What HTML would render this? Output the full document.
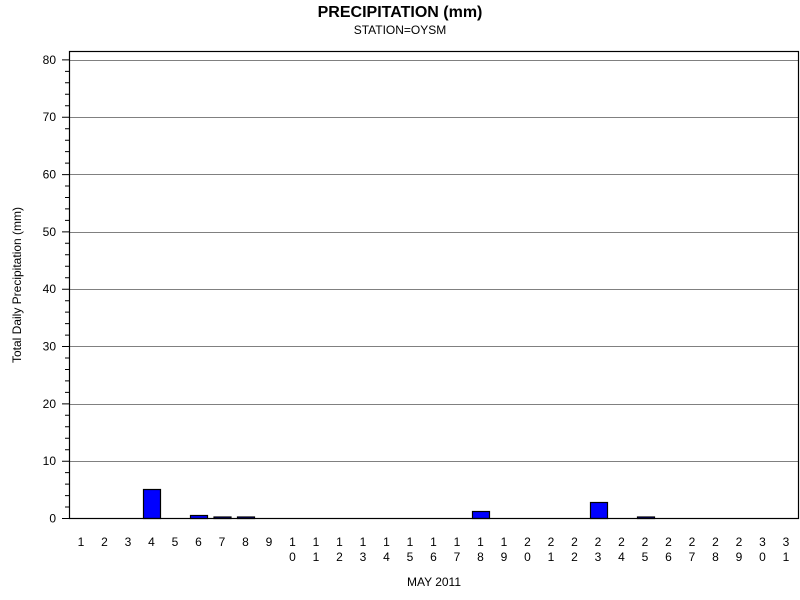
<!DOCTYPE html><html><head><style>body{margin:0;background:#fff}svg{display:block}text{font-family:"Liberation Sans",sans-serif}</style></head><body>
<svg width="800" height="600" xmlns="http://www.w3.org/2000/svg">
<text x="400" y="17" font-size="16" font-weight="bold" text-anchor="middle">PRECIPITATION (mm)</text>
<text x="400" y="34" font-size="12" text-anchor="middle">STATION=OYSM</text>
<g stroke="#808080" stroke-width="1">
<line x1="69" x2="799" y1="60.5" y2="60.5"/><line x1="69" x2="799" y1="117.5" y2="117.5"/><line x1="69" x2="799" y1="174.5" y2="174.5"/><line x1="69" x2="799" y1="232.5" y2="232.5"/><line x1="69" x2="799" y1="289.5" y2="289.5"/><line x1="69" x2="799" y1="346.5" y2="346.5"/><line x1="69" x2="799" y1="404.5" y2="404.5"/><line x1="69" x2="799" y1="461.5" y2="461.5"/>
</g>
<g fill="#0000ff" stroke="#000" stroke-width="1.2">
<rect x="143.5" y="489.5" width="17" height="29"/>
<rect x="190.5" y="515.5" width="17" height="3"/>
<rect x="214" y="517" width="17" height="1.5"/>
<rect x="237.5" y="517" width="17" height="1.5"/>
<rect x="472.5" y="511.5" width="17" height="7"/>
<rect x="590.5" y="502.5" width="17" height="16"/>
<rect x="637.5" y="517" width="17" height="1.5"/>
</g>
<rect x="69.5" y="51.5" width="729" height="467" fill="none" stroke="#000" stroke-width="1.2"/>
<path stroke="#000" stroke-width="1" fill="none" d="M62 518.5H69M65 507H69M65 495.6H69M65 484.1H69M65 472.6H69M62 461.2H69M65 449.7H69M65 438.2H69M65 426.8H69M65 415.3H69M62 403.9H69M65 392.4H69M65 380.9H69M65 369.5H69M65 358H69M62 346.5H69M65 335.1H69M65 323.6H69M65 312.1H69M65 300.7H69M62 289.2H69M65 277.7H69M65 266.3H69M65 254.8H69M65 243.3H69M62 231.9H69M65 220.4H69M65 208.9H69M65 197.5H69M65 186H69M62 174.6H69M65 163.1H69M65 151.6H69M65 140.2H69M65 128.7H69M62 117.2H69M65 105.8H69M65 94.3H69M65 82.8H69M65 71.4H69M62 59.9H69"/>
<g font-size="12" text-anchor="end">
<text x="56" y="522.5">0</text><text x="56" y="465.2">10</text><text x="56" y="407.9">20</text><text x="56" y="350.5">30</text><text x="56" y="293.2">40</text><text x="56" y="235.9">50</text><text x="56" y="178.6">60</text><text x="56" y="121.2">70</text><text x="56" y="63.9">80</text>
</g>
<g font-size="12" text-anchor="middle">
<text x="81" y="546">1</text><text x="104.5" y="546">2</text><text x="128" y="546">3</text><text x="151.5" y="546">4</text><text x="175" y="546">5</text><text x="198.5" y="546">6</text><text x="222" y="546">7</text><text x="245.5" y="546">8</text><text x="269" y="546">9</text>
<text x="292.5" y="546">1</text><text x="292.5" y="561">0</text>
<text x="316" y="546">1</text><text x="316" y="561">1</text>
<text x="339.5" y="546">1</text><text x="339.5" y="561">2</text>
<text x="363" y="546">1</text><text x="363" y="561">3</text>
<text x="386.5" y="546">1</text><text x="386.5" y="561">4</text>
<text x="410" y="546">1</text><text x="410" y="561">5</text>
<text x="433.5" y="546">1</text><text x="433.5" y="561">6</text>
<text x="457" y="546">1</text><text x="457" y="561">7</text>
<text x="480.5" y="546">1</text><text x="480.5" y="561">8</text>
<text x="504" y="546">1</text><text x="504" y="561">9</text>
<text x="527.5" y="546">2</text><text x="527.5" y="561">0</text>
<text x="551" y="546">2</text><text x="551" y="561">1</text>
<text x="574.5" y="546">2</text><text x="574.5" y="561">2</text>
<text x="598" y="546">2</text><text x="598" y="561">3</text>
<text x="621.5" y="546">2</text><text x="621.5" y="561">4</text>
<text x="645" y="546">2</text><text x="645" y="561">5</text>
<text x="668.5" y="546">2</text><text x="668.5" y="561">6</text>
<text x="692" y="546">2</text><text x="692" y="561">7</text>
<text x="715.5" y="546">2</text><text x="715.5" y="561">8</text>
<text x="739" y="546">2</text><text x="739" y="561">9</text>
<text x="762.5" y="546">3</text><text x="762.5" y="561">0</text>
<text x="786" y="546">3</text><text x="786" y="561">1</text>
</g>
<text x="434" y="586" font-size="12" text-anchor="middle">MAY 2011</text>
<text transform="translate(21,285) rotate(-90)" font-size="12" text-anchor="middle">Total Daily Precipitation (mm)</text>
</svg></body></html>
